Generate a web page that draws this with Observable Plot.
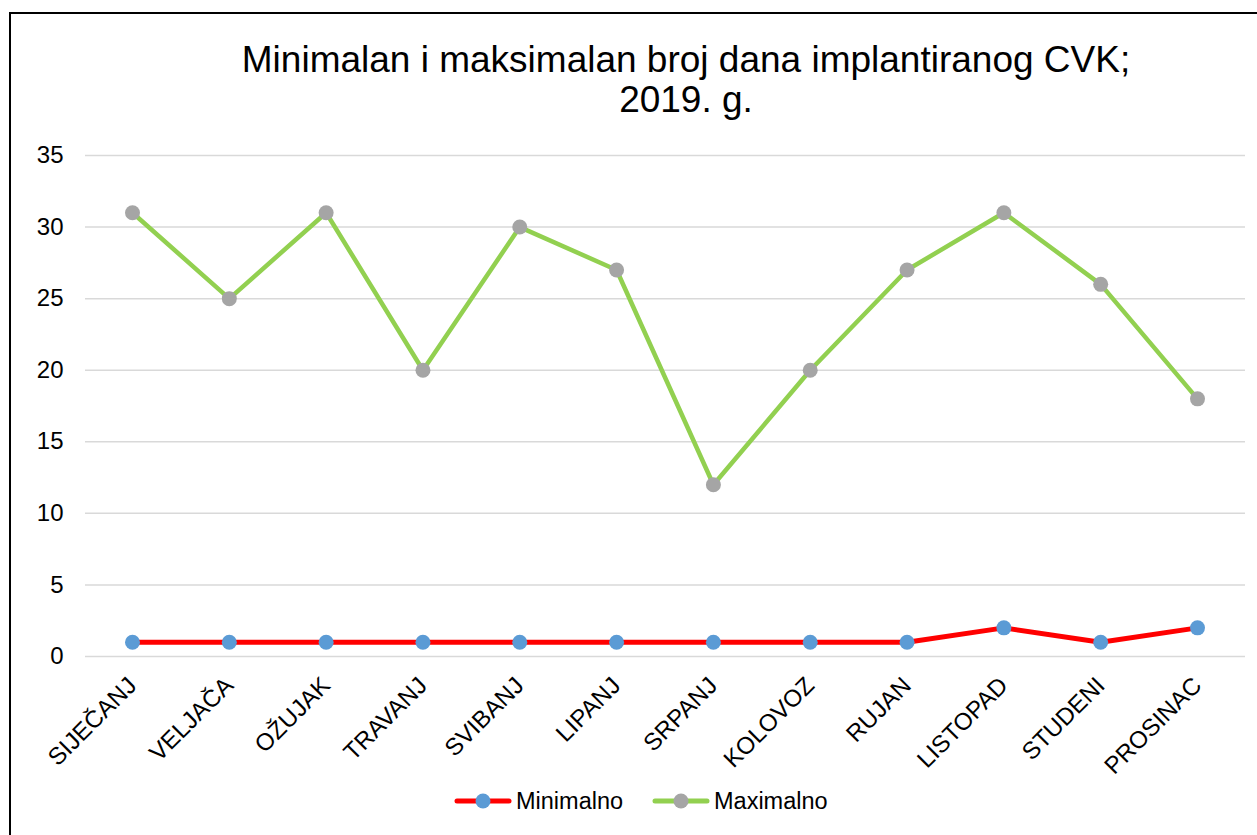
<!DOCTYPE html>
<html>
<head>
<meta charset="utf-8">
<script src="https://cdn.jsdelivr.net/npm/d3@7"></script>
<script src="https://cdn.jsdelivr.net/npm/@observablehq/plot@0.6"></script>
<style>
  html, body { margin: 0; padding: 0; background: #fff; }
  #wrap { position: relative; width: 1257px; height: 835px; overflow: hidden; font-family: "Liberation Sans", Arial, sans-serif; }
  #frameL { position: absolute; left: 9px; top: 12px; width: 2px; height: 823px; background: #000; }
  #frameT { position: absolute; left: 9px; top: 12px; width: 1248px; height: 2px; background: #000; }
  #title { position: absolute; left: 0; width: 1372px; top: 40px; text-align: center; font-size: 37px; line-height: 40px; color: #000; }
  #legend { position: absolute; top: 786px; left: 0; width: 1257px; height: 30px; color: #000; }
  #plot { position: absolute; left: 0; top: 0; }
  #plot svg text { font-size: 24px; fill: #000; }
</style>
</head>
<body>
<div id="wrap">
  <div id="plot"></div>
  <div id="frameL"></div>
  <div id="frameT"></div>
  <div id="title">Minimalan i maksimalan broj dana implantiranog CVK;<br>2019. g.</div>
  <div id="legend"></div>
</div>
<script>
const months = ["SIJEČANJ","VELJAČA","OŽUJAK","TRAVANJ","SVIBANJ","LIPANJ","SRPANJ","KOLOVOZ","RUJAN","LISTOPAD","STUDENI","PROSINAC"];
const minimalno = [1,1,1,1,1,1,1,1,1,2,1,2];
const maximalno = [31,25,31,20,30,27,12,20,27,31,26,18];
const yTicks = [0,5,10,15,20,25,30,35];
const seriesNames = ["Minimalno","Maximalno"];
const lineColors = ["#FF0000","#92D050"];
const dotColors = ["#5B9BD5","#A5A5A5"];

const minData = months.map((m,i)=>({month:m, value:minimalno[i]}));
const maxData = months.map((m,i)=>({month:m, value:maximalno[i]}));

const chart = Plot.plot({
  width: 1257,
  height: 835,
  marginTop: 155,
  marginBottom: 179,
  marginLeft: 85,
  marginRight: 12,
  style: {fontFamily: '"Liberation Sans", Arial, sans-serif', fontSize: "24px", color: "#000", background: "transparent"},
  x: {type: "point", domain: months, range: [132, 1197], padding: 0, round: false, label: null},
  y: {domain: [0,35], ticks: yTicks, label: null},
  marks: [
    Plot.gridY(yTicks, {stroke: "#D9D9D9", strokeOpacity: 1, strokeWidth: 1.5}),
    Plot.axisY(yTicks, {tickSize: 0, tickPadding: 22, label: null}),
    Plot.axisX({tickSize: 0, tickRotate: -45, tickPadding: 25, label: null}),
    Plot.line(maxData, {x: "month", y: "value", stroke: lineColors[1], strokeWidth: 4.5}),
    Plot.line(minData, {x: "month", y: "value", stroke: lineColors[0], strokeWidth: 5}),
    Plot.dot(maxData, {x: "month", y: "value", r: 7.5, fill: dotColors[1], stroke: null}),
    Plot.dot(minData, {x: "month", y: "value", r: 7.5, fill: dotColors[0], stroke: null})
  ]
});
document.getElementById("plot").appendChild(chart);

// legend
const leg = d3.select("#legend");
const lsvg = leg.append("svg").attr("width", 1257).attr("height", 30);
const items = [{x: 455}, {x: 653}];
seriesNames.forEach((name, i) => {
  const x0 = items[i].x;
  const g = lsvg.append("g");
  g.append("line").attr("x1", x0+2).attr("x2", x0+54).attr("y1", 15).attr("y2", 15)
    .attr("stroke", lineColors[i]).attr("stroke-width", 5).attr("stroke-linecap", "round");
  g.append("circle").attr("cx", x0+28).attr("cy", 15).attr("r", 7.5).attr("fill", dotColors[i]);
  g.append("text").attr("x", x0+61).attr("y", 23).attr("font-size", 23.5)
    .attr("font-family", '"Liberation Sans", Arial, sans-serif').attr("fill", "#000").text(name);
});
</script>
</body>
</html>
